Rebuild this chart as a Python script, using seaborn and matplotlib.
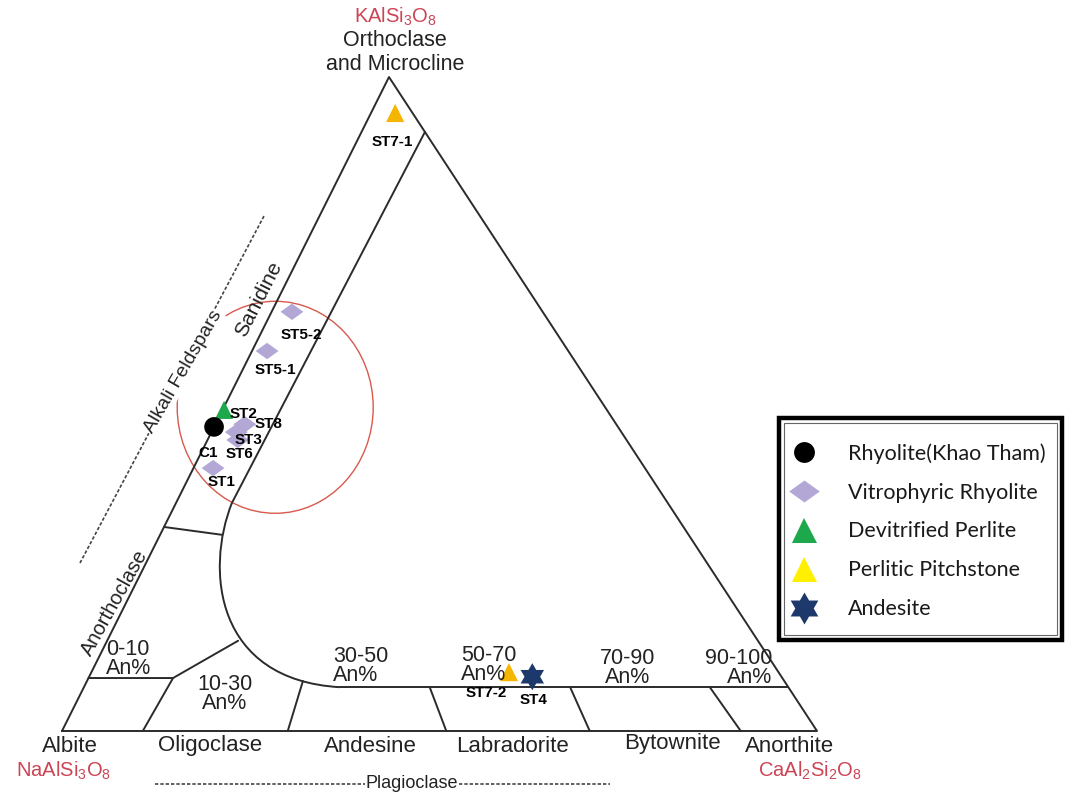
import numpy as np
import pandas as pd
import matplotlib
matplotlib.use("Agg")
import matplotlib.pyplot as plt
from matplotlib.path import Path
from matplotlib.patches import PathPatch, Ellipse, Rectangle
from matplotlib.lines import Line2D
import seaborn as sns

# ---- sample data (ternary: An fraction, Or fraction; Ab = remainder) ----
samples = ["ST7-1", "ST5-2", "ST5-1", "ST2", "C1", "ST8", "ST3", "ST6", "ST1", "ST7-2", "ST4"]
an_frac = [0.032, 0.027, 0.020, 0.002, 0.000, 0.039, 0.033, 0.040, 0.026, 0.553, 0.587]
or_frac = [0.945, 0.641, 0.581, 0.491, 0.465, 0.469, 0.457, 0.445, 0.402, 0.090, 0.083]
rock = ["Perlitic Pitchstone", "Vitrophyric Rhyolite", "Vitrophyric Rhyolite",
        "Devitrified Perlite", "Rhyolite(Khao Tham)", "Vitrophyric Rhyolite",
        "Vitrophyric Rhyolite", "Vitrophyric Rhyolite", "Vitrophyric Rhyolite",
        "Perlitic Pitchstone", "Andesite"]

legend_order = ["Rhyolite(Khao Tham)", "Vitrophyric Rhyolite", "Devitrified Perlite",
                "Perlitic Pitchstone", "Andesite"]

# ---- field boundaries of the feldspar diagram, as (An, Or) pairs ----
inner_line = [(0.084, 0.916), (0.074, 0.349)]          # alkali-feldspar limit
bend_ctrl = [(0.074, 0.349), (0.083, 0.246), (0.169, 0.078), (0.339, 0.067)]
plag_top = [(0.339, 0.067), (0.933, 0.067)]             # top of plagioclase band
san_anorth = [(0.000, 0.312), (0.082, 0.300)]
an10_upper = [(0.000, 0.081), (0.112, 0.081), (0.1735, 0.138)]
plag_dividers = [
    [(0.107, 0.0), (0.112, 0.081)],
    [(0.299, 0.0), (0.286, 0.0765)],
    [(0.509, 0.0), (0.458, 0.067)],
    [(0.699, 0.0), (0.644, 0.067)],
    [(0.899, 0.0), (0.829, 0.067)],
]
highlight_center = (0.068, 0.495)   # (An, Or)

# ---- geometry of the drawn triangle ----
APEX_X, APEX_Y = 0.4331, 0.8662


def tern(an, orr):
    an = np.asarray(an, dtype=float)
    orr = np.asarray(orr, dtype=float)
    return an + APEX_X * orr, APEX_Y * orr


W, H = 1067, 793
fig = plt.figure(figsize=(W / 100, H / 100), dpi=100)
sns.set_theme(style="white")
plt.rcParams["font.family"] = ["Liberation Sans", "DejaVu Sans"]
plt.rcParams["mathtext.fontset"] = "custom"
plt.rcParams["mathtext.rm"] = "Liberation Sans"
plt.rcParams["mathtext.it"] = "Liberation Sans"

ax = fig.add_axes([0, 0, 1, 1])
ax.set_xlim(-62 / 755, (W - 62) / 755)
ax.set_ylim(-62 / 755, (H - 62) / 755)
ax.set_axis_off()

LC = "#2b2b2b"
LW = 1.4


def tline(pts, **kw):
    a = [p[0] for p in pts]
    o = [p[1] for p in pts]
    x, y = tern(a, o)
    ax.plot(x, y, color=kw.pop("color", LC), lw=kw.pop("lw", LW),
            solid_capstyle="round", **kw)


# outer triangle
tline([(0, 0), (1, 0), (0, 1), (0, 0)])
tline(inner_line)
tline(plag_top)
tline(san_anorth)
tline(an10_upper)
for seg in plag_dividers:
    tline(seg)

bx, by = tern([p[0] for p in bend_ctrl], [p[1] for p in bend_ctrl])
bend = Path(np.column_stack([bx, by]),
            [Path.MOVETO, Path.CURVE4, Path.CURVE4, Path.CURVE4])
ax.add_patch(PathPatch(bend, facecolor="none", edgecolor=LC, lw=LW))

# highlight ellipse around the rhyolite cluster
cx, cy = tern(*highlight_center)
ax.add_patch(Ellipse((cx, cy), 196 / 755, 212 / 755, facecolor="none",
                     edgecolor="#d8594e", lw=1.0))

# ---- sample points ----
df = pd.DataFrame({"sample": samples, "An": an_frac, "Or": or_frac, "rock": rock})
df["x"], df["y"] = tern(df["An"], df["Or"])

diamond = Path([(-1, 0), (0, 0.72), (1, 0), (0, -0.72), (-1, 0)],
               [Path.MOVETO, Path.LINETO, Path.LINETO, Path.LINETO, Path.CLOSEPOLY])
ang = np.deg2rad(90 + 30 * np.arange(12))
rad = np.where(np.arange(12) % 2 == 0, 1.0, 0.577)
star_pts = np.column_stack([rad * np.cos(ang), rad * np.sin(ang)])
star6 = Path(np.vstack([star_pts, star_pts[:1]]),
             [Path.MOVETO] + [Path.LINETO] * 11 + [Path.CLOSEPOLY])

plot_style = {
    "Rhyolite(Khao Tham)": dict(marker="o", s=200, color="black"),
    "Vitrophyric Rhyolite": dict(marker=diamond, s=270, color="#b3a7d5"),
    "Devitrified Perlite": dict(marker="^", s=170, color="#1ea84c"),
    "Perlitic Pitchstone": dict(marker="^", s=170, color="#f6b500"),
    "Andesite": dict(marker=star6, s=380, color="#1d386a"),
}
draw_order = ["Vitrophyric Rhyolite", "Devitrified Perlite", "Rhyolite(Khao Tham)",
              "Perlitic Pitchstone", "Andesite"]
for grp in draw_order:
    sub = df[df["rock"] == grp]
    st = plot_style[grp]
    sns.scatterplot(data=sub, x="x", y="y", marker=st["marker"], s=st["s"],
                    color=st["color"], edgecolor="none", linewidth=0,
                    ax=ax, legend=False, zorder=5)

label_offset = {
    "ST7-1": (-2, -21), "ST5-2": (7, -17), "ST5-1": (6, -14), "ST2": (14, -3),
    "C1": (-4, -19), "ST8": (17, 0), "ST3": (9, -6), "ST6": (1, -10),
    "ST1": (6, -10), "ST7-2": (-16, -15), "ST4": (1, -17),
}
for _, r in df.iterrows():
    ax.annotate(r["sample"], (r["x"], r["y"]), xytext=label_offset[r["sample"]],
                textcoords="offset points", ha="center", va="center",
                fontsize=11, fontweight="bold", color="black", zorder=6)


# ---- text labels ----
def ftext(px, py, s, **kw):
    fig.text(px / W, 1 - py / H, s, ha=kw.pop("ha", "center"),
             va=kw.pop("va", "center"), **kw)


RED = "#cc4555"
TXT = "#222222"
ftext(395, 17, r"KAlSi$_3$O$_8$", fontsize=14.5, color=RED)
ftext(395, 41, "Orthoclase", fontsize=15.5, color=TXT)
ftext(395, 64, "and Microcline", fontsize=15.5, color=TXT)
ftext(70, 746, "Albite", fontsize=16, color=TXT)
ftext(64, 771, r"NaAlSi$_3$O$_8$", fontsize=14.5, color=RED)
ftext(210, 746, "Oligoclase", fontsize=16, color=TXT)
ftext(370, 746, "Andesine", fontsize=16, color=TXT)
ftext(512, 746, "Labradorite", fontsize=16, color=TXT)
ftext(672, 744, "Bytownite", fontsize=16, color=TXT)
ftext(790, 746, "Anorthite", fontsize=16, color=TXT)
ftext(810, 771, r"CaAl$_2$Si$_2$O$_8$", fontsize=14.5, color=RED)

zone_labels = [
    (106, 659, "0-10\nAn%", "left"),
    (225, 694, "10-30\nAn%", "center"),
    (333, 666, "30-50\nAn%", "left"),
    (461, 665, "50-70\nAn%", "left"),
    (628, 668, "70-90\nAn%", "center"),
    (772, 668, "90-100\nAn%", "right"),
]
for px, py, s, al in zone_labels:
    ftext(px, py, s, fontsize=15.5, color=TXT, ha=al, multialignment=al,
          linespacing=0.9)

ftext(259, 299, "Sanidine", fontsize=15, color=TXT, rotation=63)
ftext(115, 603, "Anorthoclase", fontsize=14.5, color=TXT, rotation=61)
ftext(183, 372, "Alkali Feldspars", fontsize=14, color=TXT, rotation=60,
      bbox=dict(facecolor="white", edgecolor="none", pad=0.5))

# dashed guide lines for the mineral groups
fig.add_artist(Line2D([80 / W, 264 / W], [1 - 563 / H, 1 - 216 / H],
                      color="#444444", lw=1.2, ls=(0, (2, 1.2)), zorder=0))
fig.add_artist(Line2D([155 / W, 610 / W], [1 - 784 / H, 1 - 784 / H],
                      color="#444444", lw=1.2, ls=(0, (2, 1.2)), zorder=0))
ftext(412, 783, "Plagioclase", fontsize=13, color=TXT,
      bbox=dict(facecolor="white", edgecolor="none", pad=0.5))

# ---- legend ----
fig.add_artist(Rectangle((779 / W, 1 - 640 / H), 283 / W, 222 / H,
                         transform=fig.transFigure, facecolor="white",
                         edgecolor="black", lw=3.2, zorder=3))
fig.add_artist(Rectangle((784 / W, 1 - 635 / H), 273 / W, 212 / H,
                         transform=fig.transFigure, facecolor="none",
                         edgecolor="#666666", lw=0.8, zorder=3))
legend_style = {
    "Rhyolite(Khao Tham)": dict(marker="o", ms=15, color="black"),
    "Vitrophyric Rhyolite": dict(marker=diamond, ms=22, color="#b3a7d5"),
    "Devitrified Perlite": dict(marker="^", ms=18, color="#1ea84c"),
    "Perlitic Pitchstone": dict(marker="^", ms=18, color="#fff000"),
    "Andesite": dict(marker=star6, ms=23, color="#1d386a"),
}
handles = [Line2D([], [], ls="none", marker=legend_style[k]["marker"],
                  ms=legend_style[k]["ms"], color=legend_style[k]["color"],
                  markeredgewidth=0) for k in legend_order]
leg = fig.legend(handles, legend_order, loc="upper left",
                 bbox_to_anchor=(787 / W, 1 - 443 / H), frameon=False,
                 prop=dict(family="Lato", size=15.5), labelspacing=0.88,
                 handlelength=1.6, handletextpad=1.25, borderpad=0.0,
                 borderaxespad=0.0)
leg.set_zorder(4)
for t in leg.get_texts():
    t.set_color("#1a1a1a")

fig.savefig("out.png", dpi=100, facecolor="white")
